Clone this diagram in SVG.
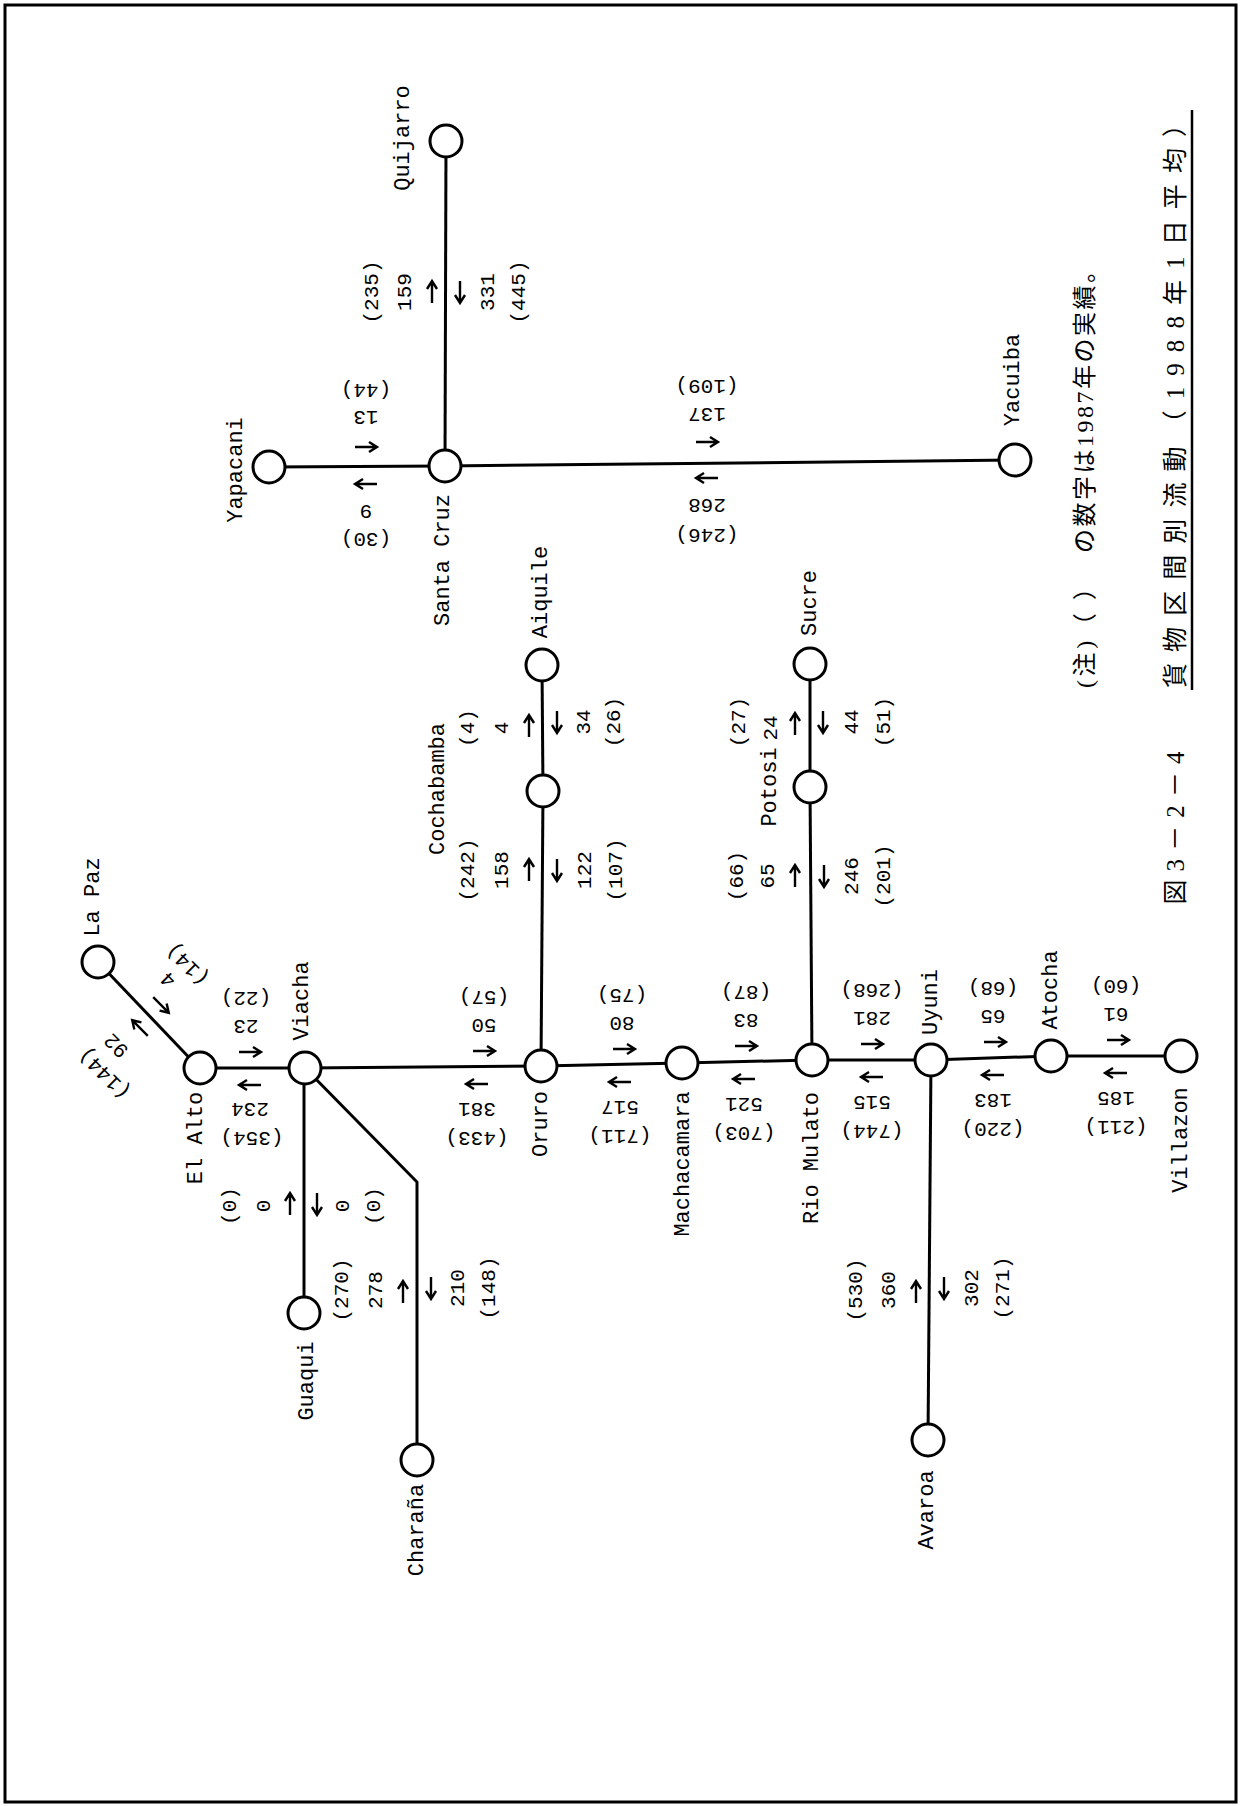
<svg xmlns="http://www.w3.org/2000/svg" xmlns:xlink="http://www.w3.org/1999/xlink" width="1242" height="1806" viewBox="0 0 1242 1806">
<style>
text{fill:#000;text-anchor:middle;dominant-baseline:central}
.st{font-family:"Liberation Mono","DejaVu Sans Mono",monospace;font-size:22px}
.n{font-family:"Liberation Mono","DejaVu Sans Mono",monospace;font-size:21px}
.jp{font-family:"Liberation Serif","Noto Sans CJK JP",serif;font-size:24px}
.jt{font-family:"Liberation Serif","Noto Sans CJK JP",serif;font-size:25px}
.ln{fill:none;stroke:#000;stroke-width:3}
.nd{fill:#fff;stroke:#000;stroke-width:3}
</style>
<defs>
<path id="ar" d="M-11,0H10M3,-5L11,0L3,5" fill="none" stroke="#000" stroke-width="2.4"/>
</defs>
<rect x="5" y="5" width="1231" height="1797" fill="none" stroke="#000" stroke-width="3"/>

<g id="connectors" class="ln">
<line x1="98" y1="962" x2="200" y2="1069"/>
<line x1="200" y1="1068" x2="305" y2="1068"/>
<line x1="305" y1="1068" x2="541" y2="1066"/>
<line x1="541" y1="1066" x2="682" y2="1063"/>
<line x1="682" y1="1063" x2="812" y2="1060"/>
<line x1="812" y1="1060" x2="931" y2="1060"/>
<line x1="931" y1="1060" x2="1051" y2="1056"/>
<line x1="1051" y1="1056" x2="1181" y2="1056"/>
<line x1="304" y1="1068" x2="304" y2="1313"/>
<polyline points="305,1068 417,1182 417,1460"/>
<line x1="541" y1="1066" x2="543" y2="791"/>
<line x1="543" y1="791" x2="542" y2="665"/>
<line x1="812" y1="1060" x2="810" y2="787"/>
<line x1="810" y1="787" x2="810" y2="664"/>
<line x1="931" y1="1060" x2="928" y2="1440"/>
<line x1="445" y1="466" x2="269" y2="467"/>
<line x1="445" y1="466" x2="1015" y2="460"/>
<line x1="445" y1="466" x2="446" y2="141"/>
</g>

<g id="node-lapaz"><circle class="nd" cx="98" cy="962" r="16"/><text class="st" transform="translate(93,897) rotate(-90)">La Paz</text></g>
<g id="node-elalto"><circle class="nd" cx="200" cy="1068" r="16"/><text class="st" transform="translate(196,1138) rotate(-90)">El Alto</text></g>
<g id="node-viacha"><circle class="nd" cx="305" cy="1068" r="16"/><text class="st" transform="translate(302,1001) rotate(-90)">Viacha</text></g>
<g id="node-guaqui"><circle class="nd" cx="304" cy="1313" r="16"/><text class="st" transform="translate(307,1381) rotate(-90)">Guaqui</text></g>
<g id="node-charana"><circle class="nd" cx="417" cy="1460" r="16"/><text class="st" transform="translate(417,1530) rotate(-90)">Charaña</text></g>
<g id="node-oruro"><circle class="nd" cx="541" cy="1066" r="16"/><text class="st" transform="translate(541,1124) rotate(-90)">Oruro</text></g>
<g id="node-machacamara"><circle class="nd" cx="682" cy="1063" r="16"/><text class="st" transform="translate(683,1164) rotate(-90)">Machacamara</text></g>
<g id="node-riomulato"><circle class="nd" cx="812" cy="1060" r="16"/><text class="st" transform="translate(812,1158) rotate(-90)">Rio Mulato</text></g>
<g id="node-uyuni"><circle class="nd" cx="931" cy="1060" r="16"/><text class="st" transform="translate(931,1002) rotate(-90)">Uyuni</text></g>
<g id="node-atocha"><circle class="nd" cx="1051" cy="1056" r="16"/><text class="st" transform="translate(1051,990) rotate(-90)">Atocha</text></g>
<g id="node-villazon"><circle class="nd" cx="1181" cy="1056" r="16"/><text class="st" transform="translate(1181,1140) rotate(-90)">Villazon</text></g>
<g id="node-avaroa"><circle class="nd" cx="928" cy="1440" r="16"/><text class="st" transform="translate(927,1510) rotate(-90)">Avaroa</text></g>
<g id="node-cochabamba"><circle class="nd" cx="543" cy="791" r="16"/><text class="st" transform="translate(438,789) rotate(-90)">Cochabamba</text></g>
<g id="node-aiquile"><circle class="nd" cx="542" cy="665" r="16"/><text class="st" transform="translate(541,592) rotate(-90)">Aiquile</text></g>
<g id="node-potosi"><circle class="nd" cx="810" cy="787" r="16"/><text class="st" transform="translate(770,787) rotate(-90)">Potosi</text></g>
<g id="node-sucre"><circle class="nd" cx="810" cy="664" r="16"/><text class="st" transform="translate(810,603) rotate(-90)">Sucre</text></g>
<g id="node-santacruz"><circle class="nd" cx="445" cy="466" r="16"/><text class="st" transform="translate(443,560) rotate(-90)">Santa Cruz</text></g>
<g id="node-yapacani"><circle class="nd" cx="269" cy="467" r="16"/><text class="st" transform="translate(236,470) rotate(-90)">Yapacani</text></g>
<g id="node-quijarro"><circle class="nd" cx="446" cy="141" r="16"/><text class="st" transform="translate(403,138) rotate(-90)">Quijarro</text></g>
<g id="node-yacuiba"><circle class="nd" cx="1015" cy="460" r="16"/><text class="st" transform="translate(1013,380) rotate(-90)">Yacuiba</text></g>

<g id="flow-labels">
<text class="n" transform="translate(188,964) rotate(-135)">(14)</text>
<text class="n" transform="translate(169,979) rotate(-135)">4</text>
<use xlink:href="#ar" transform="translate(161,1005) rotate(45)"/>
<use xlink:href="#ar" transform="translate(140,1028) rotate(-135)"/>
<text class="n" transform="translate(117,1045) rotate(-135)">92</text>
<text class="n" transform="translate(105,1073) rotate(-135)">(144)</text>

<text class="n" transform="translate(246,997) rotate(180)">(22)</text>
<text class="n" transform="translate(246,1025) rotate(180)">23</text>
<use xlink:href="#ar" transform="translate(250,1052)"/>
<use xlink:href="#ar" transform="translate(250,1085) rotate(180)"/>
<text class="n" transform="translate(250,1108) rotate(180)">234</text>
<text class="n" transform="translate(252,1137) rotate(180)">(354)</text>

<text class="n" transform="translate(484,996) rotate(180)">(57)</text>
<text class="n" transform="translate(484,1024) rotate(180)">50</text>
<use xlink:href="#ar" transform="translate(484,1051)"/>
<use xlink:href="#ar" transform="translate(477,1084) rotate(180)"/>
<text class="n" transform="translate(477,1108) rotate(180)">381</text>
<text class="n" transform="translate(477,1137) rotate(180)">(433)</text>

<text class="n" transform="translate(622,994) rotate(180)">(75)</text>
<text class="n" transform="translate(622,1022) rotate(180)">80</text>
<use xlink:href="#ar" transform="translate(624,1049)"/>
<use xlink:href="#ar" transform="translate(620,1082) rotate(180)"/>
<text class="n" transform="translate(620,1106) rotate(180)">517</text>
<text class="n" transform="translate(620,1135) rotate(180)">(711)</text>

<text class="n" transform="translate(746,991) rotate(180)">(87)</text>
<text class="n" transform="translate(746,1019) rotate(180)">83</text>
<use xlink:href="#ar" transform="translate(746,1046)"/>
<use xlink:href="#ar" transform="translate(744,1079) rotate(180)"/>
<text class="n" transform="translate(744,1103) rotate(180)">521</text>
<text class="n" transform="translate(744,1132) rotate(180)">(703)</text>

<text class="n" transform="translate(872,989) rotate(180)">(268)</text>
<text class="n" transform="translate(872,1017) rotate(180)">281</text>
<use xlink:href="#ar" transform="translate(872,1044)"/>
<use xlink:href="#ar" transform="translate(872,1077) rotate(180)"/>
<text class="n" transform="translate(872,1101) rotate(180)">515</text>
<text class="n" transform="translate(872,1130) rotate(180)">(744)</text>

<text class="n" transform="translate(993,987) rotate(180)">(68)</text>
<text class="n" transform="translate(993,1015) rotate(180)">65</text>
<use xlink:href="#ar" transform="translate(995,1042)"/>
<use xlink:href="#ar" transform="translate(993,1075) rotate(180)"/>
<text class="n" transform="translate(993,1099) rotate(180)">183</text>
<text class="n" transform="translate(993,1128) rotate(180)">(220)</text>

<text class="n" transform="translate(1116,985) rotate(180)">(60)</text>
<text class="n" transform="translate(1116,1013) rotate(180)">61</text>
<use xlink:href="#ar" transform="translate(1118,1040)"/>
<use xlink:href="#ar" transform="translate(1116,1073) rotate(180)"/>
<text class="n" transform="translate(1116,1097) rotate(180)">185</text>
<text class="n" transform="translate(1116,1126) rotate(180)">(211)</text>

<text class="n" transform="translate(366,389) rotate(180)">(44)</text>
<text class="n" transform="translate(366,416) rotate(180)">13</text>
<use xlink:href="#ar" transform="translate(366,447)"/>
<use xlink:href="#ar" transform="translate(366,484) rotate(180)"/>
<text class="n" transform="translate(366,510) rotate(180)">9</text>
<text class="n" transform="translate(366,538) rotate(180)">(30)</text>

<text class="n" transform="translate(707,385) rotate(180)">(109)</text>
<text class="n" transform="translate(707,413) rotate(180)">137</text>
<use xlink:href="#ar" transform="translate(707,442)"/>
<use xlink:href="#ar" transform="translate(707,478) rotate(180)"/>
<text class="n" transform="translate(707,504) rotate(180)">268</text>
<text class="n" transform="translate(707,534) rotate(180)">(246)</text>

<text class="n" transform="translate(372,292) rotate(-90)">(235)</text>
<text class="n" transform="translate(405,292) rotate(-90)">159</text>
<use xlink:href="#ar" transform="translate(432,292) rotate(-90)"/>
<use xlink:href="#ar" transform="translate(460,292) rotate(90)"/>
<text class="n" transform="translate(488,292) rotate(-90)">331</text>
<text class="n" transform="translate(519,292) rotate(-90)">(445)</text>

<text class="n" transform="translate(230,1206) rotate(-90)">(0)</text>
<text class="n" transform="translate(264,1206) rotate(-90)">0</text>
<use xlink:href="#ar" transform="translate(290,1204) rotate(-90)"/>
<use xlink:href="#ar" transform="translate(317,1204) rotate(90)"/>
<text class="n" transform="translate(343,1206) rotate(-90)">0</text>
<text class="n" transform="translate(374,1206) rotate(-90)">(0)</text>

<text class="n" transform="translate(342,1290) rotate(-90)">(270)</text>
<text class="n" transform="translate(376,1290) rotate(-90)">278</text>
<use xlink:href="#ar" transform="translate(403,1292) rotate(-90)"/>
<use xlink:href="#ar" transform="translate(431,1288) rotate(90)"/>
<text class="n" transform="translate(458,1288) rotate(-90)">210</text>
<text class="n" transform="translate(489,1288) rotate(-90)">(148)</text>

<text class="n" transform="translate(468,870) rotate(-90)">(242)</text>
<text class="n" transform="translate(502,870) rotate(-90)">158</text>
<use xlink:href="#ar" transform="translate(529,870) rotate(-90)"/>
<use xlink:href="#ar" transform="translate(557,870) rotate(90)"/>
<text class="n" transform="translate(585,870) rotate(-90)">122</text>
<text class="n" transform="translate(616,870) rotate(-90)">(107)</text>

<text class="n" transform="translate(468,728) rotate(-90)">(4)</text>
<text class="n" transform="translate(502,728) rotate(-90)">4</text>
<use xlink:href="#ar" transform="translate(529,726) rotate(-90)"/>
<use xlink:href="#ar" transform="translate(557,722) rotate(90)"/>
<text class="n" transform="translate(584,722) rotate(-90)">34</text>
<text class="n" transform="translate(614,722) rotate(-90)">(26)</text>

<text class="n" transform="translate(737,876) rotate(-90)">(66)</text>
<text class="n" transform="translate(768,876) rotate(-90)">65</text>
<use xlink:href="#ar" transform="translate(795,876) rotate(-90)"/>
<use xlink:href="#ar" transform="translate(824,876) rotate(90)"/>
<text class="n" transform="translate(852,876) rotate(-90)">246</text>
<text class="n" transform="translate(884,876) rotate(-90)">(201)</text>

<text class="n" transform="translate(739,722) rotate(-90)">(27)</text>
<text class="n" transform="translate(771,728) rotate(-90)">24</text>
<use xlink:href="#ar" transform="translate(795,724) rotate(-90)"/>
<use xlink:href="#ar" transform="translate(823,722) rotate(90)"/>
<text class="n" transform="translate(852,722) rotate(-90)">44</text>
<text class="n" transform="translate(884,722) rotate(-90)">(51)</text>

<text class="n" transform="translate(856,1290) rotate(-90)">(530)</text>
<text class="n" transform="translate(889,1290) rotate(-90)">360</text>
<use xlink:href="#ar" transform="translate(916,1292) rotate(-90)"/>
<use xlink:href="#ar" transform="translate(944,1288) rotate(90)"/>
<text class="n" transform="translate(972,1288) rotate(-90)">302</text>
<text class="n" transform="translate(1003,1288) rotate(-90)">(271)</text>
</g>

<g id="notes">
<text class="jp" transform="translate(1085,632) rotate(-90)" textLength="112" lengthAdjust="spacing">(注)（ ）</text>
<text class="jp" transform="translate(1085,406) rotate(-90)" textLength="294" lengthAdjust="spacing">の数字は1987年の実績。</text>
<text class="jt" transform="translate(1175,828) rotate(-90)" textLength="153" lengthAdjust="spacing">図3－2－4</text>
<text class="jt" transform="translate(1175,400) rotate(-90)" textLength="576" lengthAdjust="spacing">貨物区間別流動（1988年1日平均）</text>
<line x1="1192" y1="110" x2="1192" y2="690" stroke="#000" stroke-width="2.5"/>
</g>
</svg>
